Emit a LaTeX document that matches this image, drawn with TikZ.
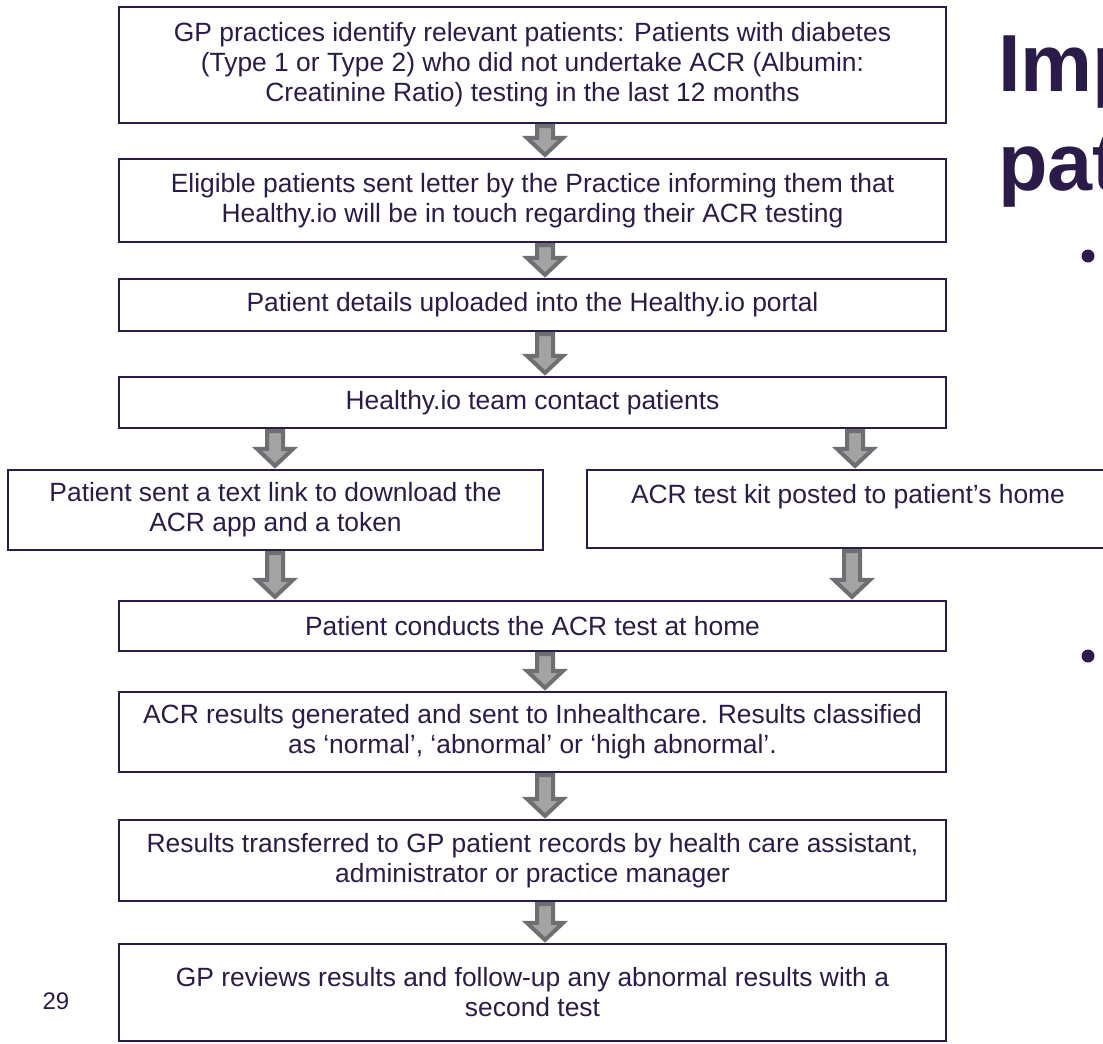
\documentclass[tikz,border=0pt]{standalone}
\usepackage{fontspec}
\setmainfont{Liberation Sans}
\usetikzlibrary{calc}
\definecolor{ink}{HTML}{2B1B48}
\definecolor{arrline}{HTML}{6E6F73}
\definecolor{arrfill}{HTML}{A3A3A3}
\newcommand\blockarrow[2]{%
  \draw[blockarr] let \p1=(#1), \p2=(#2) in
  (\x1-8pt,\y1-2pt) -- (\x1+8pt,\y1-2pt) -- (\x1+8pt,\y2+20pt) -- (\x1+18pt,\y2+20pt)
  -- (\x1,\y2+3pt) -- (\x1-18pt,\y2+20pt) -- (\x1-8pt,\y2+20pt) -- cycle;}
\begin{document}
\begin{tikzpicture}[x=1pt,y=-1pt,
  box/.style={draw=ink, line width=2.2pt, rectangle, inner sep=0pt, text=ink,
    align=center, font=\fontsize{26.4}{30}\selectfont},
  blockarr/.style={draw=arrline, fill=arrfill, line width=4pt, line join=miter},
  titletext/.style={anchor=base west, inner sep=0pt, text=ink,
    font=\fontsize{81}{99}\selectfont\bfseries}
]
\useasboundingbox (0,0) rectangle (1103,1044);
\clip (0,0) rectangle (1103,1044);
\fill[white] (0,0) rectangle (1103,1044);

% title and bullets (cut by the right edge)
\node[titletext] (title1) at (998,91) {Imp};
\node[titletext] (title2) at (998,190) {pat};
\node[circle, fill=ink, minimum size=13pt, inner sep=0pt] (bul1) at (1088,256) {};
\node[circle, fill=ink, minimum size=13pt, inner sep=0pt] (bul2) at (1088,656) {};

% page number
\node[text=ink, inner sep=0pt, font=\fontsize{24}{28}\selectfont] (pg) at (56,1001) {29};

% boxes
\node[box, minimum width=827pt, minimum height=116pt] (b1) at (532.5,65)
  {GP practices identify relevant patients: Patients with diabetes\\(Type 1 or Type 2) who did not undertake ACR (Albumin:\\Creatinine Ratio) testing in the last 12 months};
\node[box, minimum width=827pt, minimum height=83pt] (b2) at (532.5,200.5)
  {Eligible patients sent letter by the Practice informing them that\\Healthy.io will be in touch regarding their ACR testing};
\node[box, minimum width=827pt, minimum height=52pt] (b3) at (532.5,305)
  {Patient details uploaded into the Healthy.io portal};
\node[box, minimum width=827pt, minimum height=51pt] (b4) at (532.5,402.5)
  {Healthy.io team contact patients};
\node[box, minimum width=535pt, minimum height=80pt] (bl) at (275.5,510)
  {Patient sent a text link to download the\\ACR app and a token};
\node[box, minimum width=522pt, minimum height=78pt] (br) at (848,509)
  {ACR test kit posted to patient’s home\\\mbox{}};
\node[box, minimum width=827pt, minimum height=50pt] (b5) at (532.5,626)
  {Patient conducts the ACR test at home};
\node[box, minimum width=827pt, minimum height=80pt] (b6) at (532.5,732)
  {ACR results generated and sent to Inhealthcare. Results classified\\as ‘normal’, ‘abnormal’ or ‘high abnormal’.};
\node[box, minimum width=827pt, minimum height=81pt] (b7) at (532.5,860.5)
  {Results transferred to GP patient records by health care assistant,\\administrator or practice manager};
\node[box, minimum width=827pt, minimum height=97pt] (b8) at (532.5,992.5)
  {GP reviews results and follow-up any abnormal results with a\\second test};

% arrow columns
\coordinate (ax) at (545,0);
\coordinate (lx) at (275,0);
\coordinate (rx) at (855,0);
\coordinate (rx2) at (852,0);

\blockarrow{b1.south -| ax}{b2.north -| ax}
\blockarrow{b2.south -| ax}{b3.north -| ax}
\blockarrow{b3.south -| ax}{b4.north -| ax}
\blockarrow{b4.south -| lx}{bl.north -| lx}
\blockarrow{b4.south -| rx}{br.north -| rx}
\blockarrow{bl.south -| lx}{b5.north -| lx}
\blockarrow{br.south -| rx2}{b5.north -| rx2}
\blockarrow{b5.south -| ax}{b6.north -| ax}
\blockarrow{b6.south -| ax}{b7.north -| ax}
\blockarrow{b7.south -| ax}{b8.north -| ax}
\end{tikzpicture}
\end{document}
